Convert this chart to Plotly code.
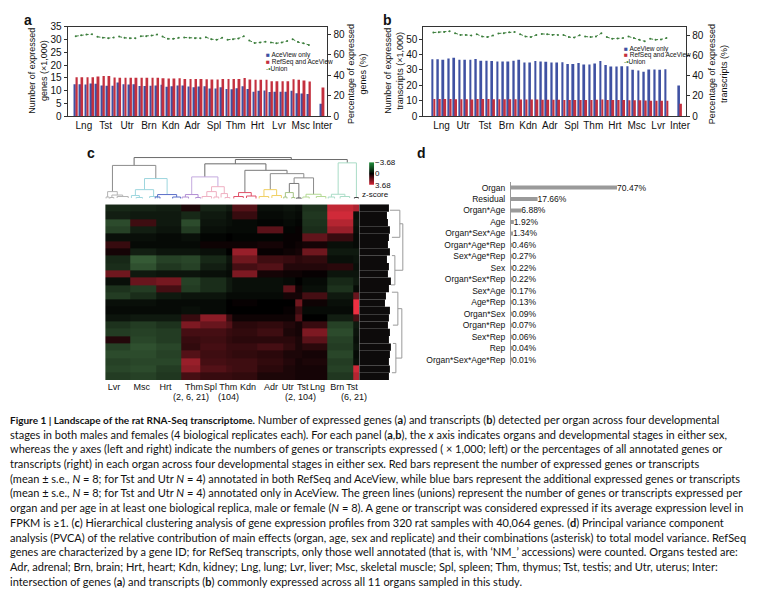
"""Figure 1 - rat RNA-Seq transcriptome landscape (panels a-d + caption)."""

import plotly.graph_objects as go

# reference canvas is 760x599; the page body adds an 8px margin, so the figure is
# drawn 8px smaller and every reference pixel position is shifted by that offset
W, H = 760, 599
OFF = 8
FIG_W, FIG_H = W - OFF, H - OFF
FONT = "Liberation Sans, Arial, sans-serif"
CAPTION_FONT = "Lato, Open Sans, sans-serif"
BLUE = "#3f51a2"
RED = "#c4303e"
GREEN = "#3d7f3d"
AXIS = "#333333"

# ---------------- panel a: expressed genes (x1,000) and union (%) ----------------
organs_a = ["Lng", "Tst", "Utr", "Brn", "Kdn", "Adr", "Spl", "Thm", "Hrt", "Lvr", "Msc"]
genes_aceview = [
    [12.5, 12.5, 12.4, 12.8], [12.7, 12.0, 11.9, 11.9], [13.1, 12.5, 12.4, 12.5],
    [11.8, 11.8, 11.9, 12.0], [12.3, 11.5, 11.7, 12.0], [12.0, 11.6, 11.3, 11.6],
    [11.7, 10.8, 10.8, 11.3], [10.6, 10.5, 10.9, 11.7], [10.6, 9.5, 9.9, 10.0],
    [9.4, 9.5, 9.5, 9.5], [9.9, 8.9, 8.8, 8.6],
]
genes_refseq = [
    [15.2, 15.2, 15.2, 15.2], [15.5, 15.7, 15.7, 15.1], [15.0, 15.0, 15.0, 15.0],
    [15.0, 15.0, 15.0, 15.0], [14.8, 14.7, 14.7, 14.8], [14.5, 14.5, 14.5, 14.5],
    [14.4, 14.3, 14.3, 14.5], [14.5, 14.5, 14.5, 14.9], [14.3, 14.2, 14.2, 14.2],
    [13.6, 13.6, 13.6, 13.6], [14.4, 14.2, 13.9, 13.5],
]
genes_union = [
    [78.4, 79.4, 80.0, 80.3], [77.8, 76.8, 76.5, 77.1], [78.0, 76.8, 76.5, 76.5],
    [78.4, 78.4, 79.0, 80.0], [78.0, 75.8, 75.8, 76.8], [77.1, 76.8, 76.5, 76.5],
    [77.4, 75.5, 74.9, 76.8], [74.9, 75.5, 76.2, 78.4], [74.2, 71.7, 72.3, 73.0],
    [72.3, 71.4, 72.3, 73.6], [75.5, 72.6, 71.4, 69.8],
]
genes_inter = [4.8, 11.2]  # AceView only, RefSeq and AceView

# ---------------- panel b: expressed transcripts ----------------
organs_b = ["Lng", "Utr", "Tst", "Brn", "Kdn", "Adr", "Spl", "Thm", "Hrt", "Msc", "Lvr"]
tx_aceview = [
    [36.9, 36.9, 36.5, 37.3], [37.8, 36.5, 36.5, 36.5], [37.1, 35.9, 35.9, 35.7],
    [35.4, 35.4, 35.4, 35.9], [36.5, 34.8, 34.8, 35.7], [35.4, 35.2, 34.8, 34.8],
    [35.0, 33.8, 33.8, 34.4], [33.5, 33.5, 34.2, 35.7], [33.1, 32.1, 32.1, 32.3],
    [32.3, 30.0, 29.5, 28.7], [30.2, 30.2, 30.0, 30.4],
]
tx_refseq = [
    [11.0, 11.0, 11.0, 11.0], [10.9, 10.9, 10.9, 10.8], [11.0, 11.0, 11.0, 10.9],
    [10.9, 10.9, 10.9, 10.9], [10.8, 10.8, 10.8, 10.7], [10.6, 10.6, 10.6, 10.6],
    [10.5, 10.5, 10.5, 10.5], [10.5, 10.5, 10.6, 10.7], [10.4, 10.4, 10.4, 10.4],
    [10.3, 10.3, 10.3, 10.1], [10.0, 10.0, 10.0, 10.0],
]
tx_union = [
    [82.9, 83.2, 83.5, 84.2], [82.3, 80.6, 80.6, 80.0], [81.3, 79.0, 78.4, 80.0],
    [82.0, 82.3, 83.2, 83.5], [81.3, 79.0, 78.4, 80.6], [81.6, 81.3, 80.6, 80.6],
    [80.6, 78.4, 78.0, 80.3], [79.0, 78.4, 79.0, 82.3], [78.4, 76.8, 77.1, 77.4],
    [79.0, 77.4, 75.8, 74.2], [76.8, 75.8, 76.1, 77.4],
]
tx_inter = [19.8, 8.0]

# ---------------- panel c: clustered heatmap (coarse z-scores) ----------------
hm_col_edges = [0, 32, 64, 96, 120, 152, 160, 192, 224, 240, 248, 280, 312, 320]
hm_labels = ["Lvr", "Msc", "Hrt", "Thm", "Spl", "Thm", "Kdn",
             "Adr", "Utr", "Tst", "Lng", "Brn", "Tst"]
hm_label_pos = [11, 46, 76, 112, 132.5, 155, 180, 209, 230, 249, 267.5, 292.5, 311]
hm_sublabels = ["(2, 6, 21)", "(104)", "(2, 104)", "(6, 21)"]
hm_sublabel_pos = [107.5, 155, 246, 314]
hm_rows = [
    [-0.8, -0.7, -0.6, 0.4, -0.7, -0.5, 1.2, -0.3, -0.4, -0.3, -1.0, 2.8, 2.5],
    [-0.6, -0.5, -0.5, -0.8, -0.5, -0.3, 0.8, -0.2, -0.3, -0.2, -1.1, 3.0, -0.3],
    [-1.5, 0.9, -0.5, -1.5, -0.4, -0.3, -0.2, -0.1, -0.2, -0.1, -1.0, 2.6, -0.4],
    [-1.3, -0.6, -0.4, -1.2, -0.3, -0.2, -0.2, 1.3, -0.1, 0.1, -0.9, 2.2, -0.3],
    [-0.3, -0.3, -0.2, -0.3, -0.1, 0.0, -0.1, -0.1, 0.1, 0.1, 1.4, 0.8, -0.2],
    [0.8, -0.2, -0.2, -0.2, 0.2, 0.2, 0.2, 0.3, 0.1, 0.2, 0.3, -0.3, -0.2],
    [0.3, -0.6, -0.4, -0.4, -0.3, 0.0, 2.2, 0.1, 0.2, 0.3, 1.6, -0.5, -0.5],
    [-0.8, -1.8, -1.3, -1.4, -0.8, -0.4, 1.6, 0.9, 0.8, 0.6, 0.7, -0.3, -0.4],
    [-0.9, -1.6, -1.1, -1.3, -0.6, -0.3, 1.0, 1.2, 0.5, 0.5, 0.5, 0.6, -0.3],
    [1.6, -0.5, -0.4, -0.4, -0.3, -0.2, 1.8, 0.3, 0.2, 0.2, 0.1, -0.4, -0.4],
    [-0.3, 1.5, 1.7, -1.3, -0.9, -0.5, -0.3, -0.3, -0.2, 0.0, -0.2, -0.8, -0.5],
    [-1.0, -1.2, 1.0, -1.2, -0.9, -0.5, -0.3, -0.3, 1.4, 0.2, -0.3, -1.0, -0.2],
    [-1.2, -0.9, -0.5, -0.4, -0.4, -0.2, -0.2, -0.2, 0.3, 0.3, 1.0, -0.5, 1.5],
    [-0.3, -0.3, -0.2, -0.2, -0.2, 0.0, 0.1, 0.0, 0.0, 1.6, 0.2, -0.3, 3.4],
    [-0.2, -0.2, -0.2, -0.3, -0.2, 0.0, 0.0, 0.0, 0.1, 0.8, -0.2, -0.2, 3.4],
    [-0.4, -0.5, -0.5, 0.8, 2.0, 0.8, 0.2, 0.2, 0.2, 1.2, 0.0, -0.6, 1.0],
    [-1.0, -1.2, -1.0, 1.8, 1.5, 1.2, 0.6, 0.7, 0.5, 0.3, 0.8, -1.3, -0.5],
    [-1.2, -1.3, -1.2, 1.0, 1.0, 0.8, 0.7, 0.9, 0.4, 0.3, 1.8, -1.5, -0.4],
    [0.5, -1.4, -1.2, 0.8, 0.9, 0.7, 0.6, 0.6, 0.6, 0.4, 1.3, -1.3, -0.3],
    [-1.3, -1.6, -1.4, 0.7, 1.0, 0.8, 0.8, 1.0, 0.7, 0.4, 0.6, -1.2, -0.4],
    [-1.5, -1.5, -1.3, 1.2, 0.9, 0.8, 0.7, 0.6, 0.4, 0.4, 0.3, -1.4, -0.2],
    [-1.3, -1.4, -1.4, 2.2, 1.0, 0.9, 0.9, 0.7, 0.5, 0.3, 0.4, -1.2, -0.3],
    [-1.4, -1.5, -1.2, 2.0, 1.2, 1.0, 0.9, 0.6, 0.4, 0.3, 0.3, -1.3, 3.0],
    [-1.2, -1.3, -1.1, 1.0, 0.8, 0.8, 0.7, 0.4, 0.4, 0.3, 0.3, -1.1, 2.6],
]
zscore_levels = [-3.68, -1.84, 0.0, 1.84, 3.68]

# column dendrogram links: (x_left, x_right, height, left_child_h, right_child_h, colour)
col_dendro = [
    (36.4, 234.5, 41.7, 33.7, 39.7, "#6b6b6b"),
    (9.1, 63.75, 33.7, 7.0, 20.3, "#8c8c8c"),
    (49.5, 78.0, 20.3, 9.0, 4.0, "#9dd6de"),
    (164.0, 305.0, 39.7, 35.3, 36.3, "#6b6b6b"),
    (125.5, 202.5, 35.3, 22.0, 28.7, "#6b6b6b"),
    (109.0, 142.0, 22.0, 4.0, 12.0, "#c4aadf"),
    (176.0, 229.1, 28.7, 6.0, 25.3, "#7a7a7a"),
    (208.0, 250.25, 25.3, 9.0, 21.0, "#8c8c8c"),
    (238.0, 262.5, 21.0, 15.3, 4.3, "#8c8c8c"),
    (232.0, 244.0, 15.3, 6.0, 0.5, "#7a7a7a"),
    (293.5, 316.5, 36.3, 4.3, 1.0, "#a9dcc6"),
    (3.0, 15.2, 7.0, 1.5, 3.5, "#b4b4b4"), (8.4, 22.0, 3.5, 1.0, 2.0, "#b4b4b4"),
    (15.0, 29.0, 2.0, 0.5, 0.5, "#b4b4b4"), (1.0, 5.0, 1.5, 0.0, 0.0, "#b4b4b4"),
    (6.0, 10.8, 1.0, 0.0, 0.0, "#b4b4b4"),
    (38.0, 61.0, 9.0, 3.0, 2.0, "#9dd6de"), (33.0, 43.0, 3.0, 0.5, 1.0, "#9dd6de"),
    (56.0, 66.0, 2.0, 0.5, 0.0, "#9dd6de"), (39.0, 47.0, 1.0, 0.0, 0.0, "#9dd6de"),
    (66.0, 90.0, 4.0, 1.5, 1.5, "#5b6fc8"), (63.0, 69.0, 1.5, 0.0, 0.0, "#5b6fc8"),
    (85.0, 95.0, 1.5, 0.0, 0.0, "#5b6fc8"),
    (101.0, 117.0, 4.0, 1.5, 1.0, "#b28ed3"), (97.0, 105.0, 1.5, 0.0, 0.0, "#b28ed3"),
    (114.0, 120.0, 1.0, 0.0, 0.0, "#b28ed3"),
    (134.0, 150.0, 12.0, 7.0, 5.0, "#efb0c2"), (128.0, 140.0, 7.0, 2.0, 1.5, "#efb0c2"),
    (146.0, 154.0, 5.0, 1.0, 0.5, "#efb0c2"), (122.0, 134.0, 2.0, 0.0, 0.0, "#efb0c2"),
    (137.0, 143.0, 1.5, 0.0, 0.0, "#efb0c2"), (151.0, 157.0, 1.0, 0.0, 0.0, "#efb0c2"),
    (168.0, 184.0, 6.0, 2.0, 2.5, "#e05068"), (162.0, 174.0, 2.0, 0.0, 0.5, "#e05068"),
    (178.0, 190.0, 2.5, 0.5, 0.0, "#e05068"),
    (200.0, 216.0, 9.0, 2.0, 3.0, "#f0d064"), (194.0, 206.0, 2.0, 0.0, 0.5, "#f0d064"),
    (210.0, 222.0, 3.0, 0.5, 0.5, "#f0d064"),
    (227.0, 237.0, 6.0, 1.5, 1.0, "#a6c486"), (225.0, 229.0, 1.5, 0.0, 0.0, "#a6c486"),
    (235.0, 239.0, 1.0, 0.0, 0.0, "#a6c486"),
    (241.0, 247.0, 0.5, 0.0, 0.0, "#505050"),
    (253.0, 272.0, 4.3, 1.5, 2.0, "#b4d994"), (249.0, 257.0, 1.5, 0.0, 0.0, "#b4d994"),
    (266.0, 278.0, 2.0, 0.5, 0.0, "#b4d994"),
    (285.0, 302.0, 4.3, 1.5, 2.0, "#a9dcc6"), (281.0, 289.0, 1.5, 0.0, 0.0, "#a9dcc6"),
    (296.0, 308.0, 2.0, 0.0, 0.5, "#a9dcc6"),
    (314.0, 319.0, 1.0, 0.0, 0.0, "#444444"),
]

# row dendrogram: dense black block per row band + a few outer grey links
row_black_len = [30, 28, 29, 31, 30, 29, 31, 28, 30, 29, 32, 30,
                 27, 26, 31, 30, 29, 31, 30, 32, 31, 30, 31, 30]
# (row_a, row_b, level, child_a_level, child_b_level)
row_dendro = [
    (0.8, 4.5, 41, 31, 33), (2.65, 9.0, 44, 41, 36), (7.0, 11.0, 36, 33, 32),
    (12.0, 16.5, 39, 33, 34), (14.25, 21.0, 43, 39, 37), (19.0, 23.0, 37, 34, 33),
]

# ---------------- panel d: PVCA ----------------
pvca_effects = ["Organ", "Residual", "Organ*Age", "Age", "Organ*Sex*Age", "Organ*Age*Rep",
                "Sex*Age*Rep", "Sex", "Organ*Sex*Rep", "Sex*Age", "Age*Rep", "Organ*Sex",
                "Organ*Rep", "Sex*Rep", "Rep", "Organ*Sex*Age*Rep"]
pvca_pct = [70.47, 17.66, 6.88, 1.92, 1.34, 0.46, 0.27, 0.22, 0.22, 0.17, 0.13, 0.09,
            0.07, 0.06, 0.04, 0.01]

CAPTION_LINES = [
    '<span style="font-size:10px"><b>Figure 1 | Landscape of the rat RNA-Seq transcriptome.</b></span> Number of expressed genes (<b>a</b>) and transcripts (<b>b</b>) detected per organ across four developmental',
    "stages in both males and females (4 biological replicates each). For each panel (<b>a</b>,<b>b</b>), the <i>x</i> axis indicates organs and developmental stages in either sex,",
    "whereas the <i>y</i> axes (left and right) indicate the numbers of genes or transcripts expressed ( × 1,000; left) or the percentages of all annotated genes or",
    "transcripts (right) in each organ across four developmental stages in either sex. Red bars represent the number of expressed genes or transcripts",
    "(mean ± s.e., <i>N</i> = 8; for Tst and Utr <i>N</i> = 4) annotated in both RefSeq and AceView, while blue bars represent the additional expressed genes or transcripts",
    "(mean ± s.e., <i>N</i> = 8; for Tst and Utr <i>N</i> = 4) annotated only in AceView. The green lines (unions) represent the number of genes or transcripts expressed per",
    "organ and per age in at least one biological replica, male or female (<i>N</i> = 8). A gene or transcript was considered expressed if its average expression level in",
    "FPKM is ≥1. (<b>c</b>) Hierarchical clustering analysis of gene expression profiles from 320 rat samples with 40,064 genes. (<b>d</b>) Principal variance component",
    "analysis (PVCA) of the relative contribution of main effects (organ, age, sex and replicate) and their combinations (asterisk) to total model variance. RefSeq",
    "genes are characterized by a gene ID; for RefSeq transcripts, only those well annotated (that is, with ‘NM_’ accessions) were counted. Organs tested are:",
    "Adr, adrenal; Brn, brain; Hrt, heart; Kdn, kidney; Lng, lung; Lvr, liver; Msc, skeletal muscle; Spl, spleen; Thm, thymus; Tst, testis; and Utr, uterus; Inter:",
    "intersection of genes (<b>a</b>) and transcripts (<b>b</b>) commonly expressed across all 11 organs sampled in this study.",
]

STAGE_OFFSETS = [-0.375, -0.125, 0.125, 0.375]


def _fx(px):
    return (px - OFF) / FIG_W


def _fy(py):
    return 1 - (py - OFF) / FIG_H


def _note(text, x, y, size, xanchor="left", yanchor="middle", angle=0, family=FONT):
    return dict(text=text, x=_fx(x), y=_fy(y), xref="paper", yref="paper", showarrow=False,
                xanchor=xanchor, yanchor=yanchor, textangle=angle,
                font=dict(size=size, family=family, color="#111"))


def _add_counts(fig, aceview, refseq, union, inter, xa, ya, ya2):
    n = len(aceview)
    xs = [i + o for i in range(n) for o in STAGE_OFFSETS] + [n]
    blue = [v for r in aceview for v in r] + [inter[0]]
    red = [v for r in refseq for v in r] + [inter[1]]
    fig.add_trace(go.Bar(x=xs, y=blue, width=0.09, offset=-0.09, marker=dict(color=BLUE, line_width=0),
                         xaxis=xa, yaxis=ya))
    fig.add_trace(go.Bar(x=xs, y=red, width=0.09, offset=0.0, marker=dict(color=RED, line_width=0),
                         xaxis=xa, yaxis=ya))
    ux, uy = [], []
    for i, r in enumerate(union):
        ux += [i + o for o in STAGE_OFFSETS] + [None]
        uy += list(r) + [None]
    fig.add_trace(go.Scatter(x=ux, y=uy, mode="lines+markers", xaxis=xa, yaxis=ya2,
                             line=dict(color=GREEN, width=1, dash="3px,2px"),
                             marker=dict(size=2, color=GREEN)))


def _count_axes(x0, x1, xrange, labels, left_max, left_dtick, right_max, anchor_y):
    ax_line = dict(showline=True, linecolor=AXIS, linewidth=1, showgrid=False, zeroline=False)
    xaxis = dict(domain=[_fx(x0), _fx(x1)], range=xrange, tickvals=list(range(len(labels))),
                 ticktext=labels, ticks="", mirror=True, anchor=anchor_y,
                 tickfont=dict(size=10), **ax_line)
    yaxis = dict(domain=[_fy(113), _fy(22)], range=[0, left_max], dtick=left_dtick,
                 ticks="outside", ticklen=3, tickcolor=AXIS, tickfont=dict(size=10), **ax_line)
    yaxis2 = dict(range=[0, right_max], tickvals=[0, 20, 40, 60, 80], side="right",
                  ticks="outside", ticklen=3, tickcolor=AXIS, tickfont=dict(size=10), **ax_line)
    return xaxis, yaxis, yaxis2


fig = go.Figure()

# panels a and b
_add_counts(fig, genes_aceview, genes_refseq, genes_union, genes_inter, "x", "y", "y2")
_add_counts(fig, tx_aceview, tx_refseq, tx_union, tx_inter, "x2", "y3", "y4")

xa, ya, ya2 = _count_axes(68, 330, [-0.755, 11.23], organs_a + ["Inter"], 35, 5, 87.7, "y")
ya.update(anchor="x")
ya2.update(anchor="x", overlaying="y")
xb, yb, yb2 = _count_axes(426.7, 691.7, [-0.837, 11.29], organs_b + ["Inter"], 58, 10, 88.7, "y3")
yb.update(anchor="x2")
yb2.update(anchor="x2", overlaying="y3")

# panel c: column dendrogram
for xl, xr, h, hl, hr, col in col_dendro:
    fig.add_trace(go.Scatter(x=[xl, xl, xr, xr], y=[hl, h, h, hr], mode="lines",
                             line=dict(color=col, width=1), xaxis="x3", yaxis="y5"))

# heatmap
fig.add_trace(go.Heatmap(
    z=hm_rows, x=hm_col_edges, y=list(range(len(hm_rows) + 1)),
    zmin=-3.68, zmax=3.68, showscale=False, xaxis="x4", yaxis="y6",
    colorscale=[[0.0, "#6cb86c"], [0.5, "#000000"], [1.0, "#ff3446"]],
))

# row dendrogram
fig.add_trace(go.Bar(y=[i + 0.5 for i in range(len(row_black_len))], x=row_black_len,
                     orientation="h", width=1, marker=dict(color="#0d0b0b", line_width=0),
                     xaxis="x5", yaxis="y7"))
for ya_, yb_, lvl, ca, cb in row_dendro:
    fig.add_trace(go.Scatter(x=[ca, lvl, lvl, cb], y=[ya_, ya_, yb_, yb_], mode="lines",
                             line=dict(color="#9a9a9a", width=1), xaxis="x5", yaxis="y7"))

# z-score colour key
fig.add_trace(go.Heatmap(z=[[v] for v in zscore_levels], x=[0], y=zscore_levels,
                         zmin=-3.68, zmax=3.68, zsmooth="best", showscale=False,
                         colorscale=[[0.0, "#1f8a3a"], [0.5, "#000000"], [1.0, "#e8283a"]],
                         xaxis="x6", yaxis="y8"))

# panel d
fig.add_trace(go.Bar(y=pvca_effects, x=pvca_pct, orientation="h", width=0.35,
                     marker=dict(color="#9a9a9a", line_width=0),
                     text=pvca_pct, texttemplate="%{x:.2f}%", textposition="outside",
                     constraintext="none", cliponaxis=False,
                     textfont=dict(size=8.5, family=FONT, color="#111"),
                     xaxis="x7", yaxis="y9"))

hidden = dict(visible=False, showgrid=False, zeroline=False)
hm_x = [_fx(106), _fx(362)]
hm_y = [_fy(382), _fy(203)]

annotations = [
    _note("<b>a</b>", 28, 15, 14, "center"),
    _note("<b>b</b>", 391, 15, 14, "center"),
    _note("<b>c</b>", 92, 151, 14, "center"),
    _note("<b>d</b>", 425, 151, 14, "center"),
    _note("Number of expressed<br>genes (×1,000)", 38, 67, 9, "center", angle=-90),
    _note("Percentage of expressed<br>genes (%)", 360, 70, 9, "center", angle=-90),
    _note("Number of expressed<br>transcripts (×1,000)", 397, 67, 9, "center", angle=-90),
    _note("Percentage of expressed<br>transcripts (%)", 724, 70, 9, "center", angle=-90),
    _note("z-score", 378, 193, 8, "center"),
]
for x0, y0 in [(266, 51), (627, 44.3)]:
    annotations += [
        _note(f'<span style="color:{BLUE}">■</span> AceView only', x0, y0, 6.5),
        _note(f'<span style="color:{RED}">■</span> RefSeq and AceView', x0, y0 + 6.7, 6.5),
        _note(f'<span style="color:{GREEN}">-•</span>Union', x0, y0 + 13.4, 6.5),
    ]
for text, pos in zip(hm_sublabels, hm_sublabel_pos):
    annotations.append(dict(text=text, x=pos, xref="x4", y=_fy(399.5), yref="paper",
                            showarrow=False, xanchor="center", yanchor="middle",
                            font=dict(size=9, family=FONT, color="#111")))
for i, line in enumerate(CAPTION_LINES):
    annotations.append(_note(line, 8, 422 + 15 * i, 11, family=CAPTION_FONT))

fig.update_layout(
    width=FIG_W, height=FIG_H, margin=dict(l=0, r=0, t=0, b=0),
    paper_bgcolor="white", plot_bgcolor="white", showlegend=False,
    font=dict(family=FONT, size=9, color="#111"),
    xaxis=xa, yaxis=ya, yaxis2=ya2,
    xaxis2=xb, yaxis3=yb, yaxis4=yb2,
    xaxis3=dict(domain=hm_x, range=[0, 320], anchor="y5", **hidden),
    yaxis5=dict(domain=[_fy(200), _fy(153)], range=[-3, 44], anchor="x3", **hidden),
    xaxis4=dict(domain=hm_x, range=[0, 320], anchor="y6", tickvals=hm_label_pos,
                ticktext=hm_labels, ticks="", tickangle=0, showline=False, showgrid=False,
                zeroline=False, tickfont=dict(size=9)),
    yaxis6=dict(domain=hm_y, range=[len(hm_rows), 0], anchor="x4", **hidden),
    xaxis5=dict(domain=[_fx(362), _fx(408)], range=[0, 46], anchor="y7", **hidden),
    yaxis7=dict(domain=hm_y, range=[len(hm_rows), 0], anchor="x5", **hidden),
    xaxis6=dict(domain=[_fx(372), _fx(377)], range=[-0.5, 0.5], anchor="y8", **hidden),
    yaxis8=dict(domain=[_fy(183), _fy(160)], range=[3.68, -3.68], anchor="x6", side="right",
                tickvals=[-3.68, 0, 3.68], ticktext=["−3.68", "0", "3.68"], ticks="",
                showline=False, showgrid=False, zeroline=False, tickfont=dict(size=8)),
    xaxis7=dict(domain=[_fx(515), _fx(622)], range=[0, 70.47], anchor="y9", **hidden),
    yaxis9=dict(domain=[_fy(367), _fy(180)], anchor="x7", autorange="reversed",
                showline=True, linecolor="#999999", linewidth=1, ticks="", showgrid=False,
                zeroline=False, ticklabelstandoff=3, tickfont=dict(size=8.5)),
    annotations=annotations,
)

fig.write_html("out.html")
